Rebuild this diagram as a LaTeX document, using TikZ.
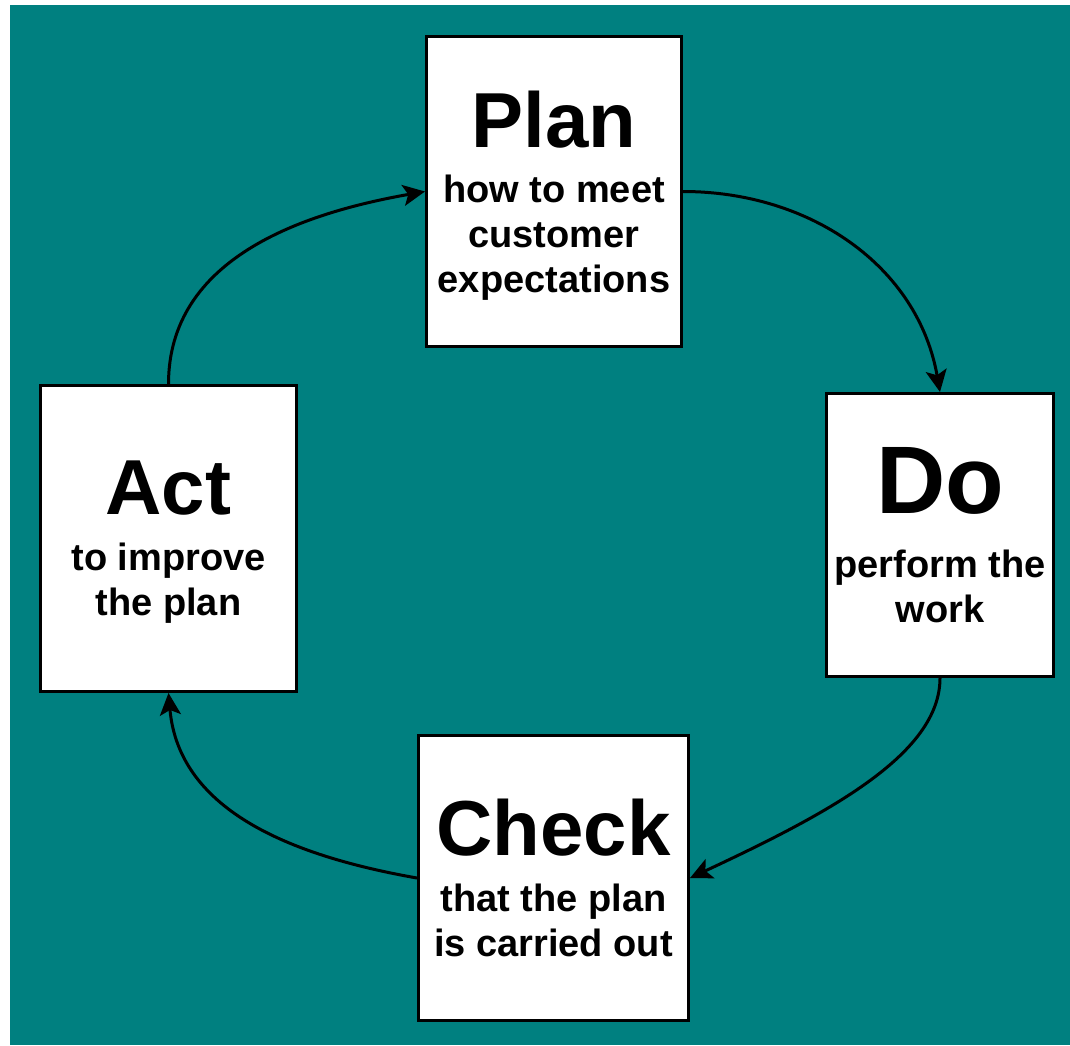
\documentclass[tikz,border=0pt]{standalone}
\usepackage{fontspec}
\setmainfont{Liberation Sans}
\usetikzlibrary{arrows.meta}
\definecolor{pdcateal}{HTML}{008080}

\begin{document}
\begin{tikzpicture}[x=1pt,y=1pt,
  phase/.style={draw,fill=white,line width=3pt,inner sep=0pt,align=center,
    font=\bfseries\fontsize{38}{45}\selectfont},
  flow/.style={line width=3pt,-{Stealth[length=22pt,width=21pt,inset=5pt]}}]

  \useasboundingbox (0,0) rectangle (1070,-1045);
  \fill[pdcateal] (10,-5) rectangle (1070,-1045);

  \node[phase,minimum width=255pt,minimum height=310pt,text depth=-2pt] (plan) at (554,-191.5)
    {{\fontsize{78}{78}\selectfont Plan}\\[10pt]how to meet\\customer\\expectations};
  \node[phase,minimum width=227pt,minimum height=283pt,text depth=-7pt] (do) at (940,-535)
    {{\fontsize{96}{96}\selectfont Do}\\[19pt]perform the\\work};
  \node[phase,minimum width=270pt,minimum height=285pt,text depth=-5pt] (check) at (553.5,-878)
    {{\fontsize{78}{78}\selectfont Check}\\[11pt]that the plan\\is carried out};
  \node[phase,minimum width=256pt,minimum height=306pt,text depth=-3pt] (act) at (168.5,-538.5)
    {{\fontsize{78}{78}\selectfont Act}\\[11pt]to improve\\the plan};

  \draw[flow] (plan.east) to[out=0,in=100] (do.north);
  \draw[flow] (do.south) to[out=-90,in=25,out looseness=0.6,in looseness=1.25] (check.east);
  \draw[flow] (check.west) to[out=170,in=-85] (act.south);
  \draw[flow] (act.north) to[out=90,in=190] (plan.west);
\end{tikzpicture}
\end{document}
